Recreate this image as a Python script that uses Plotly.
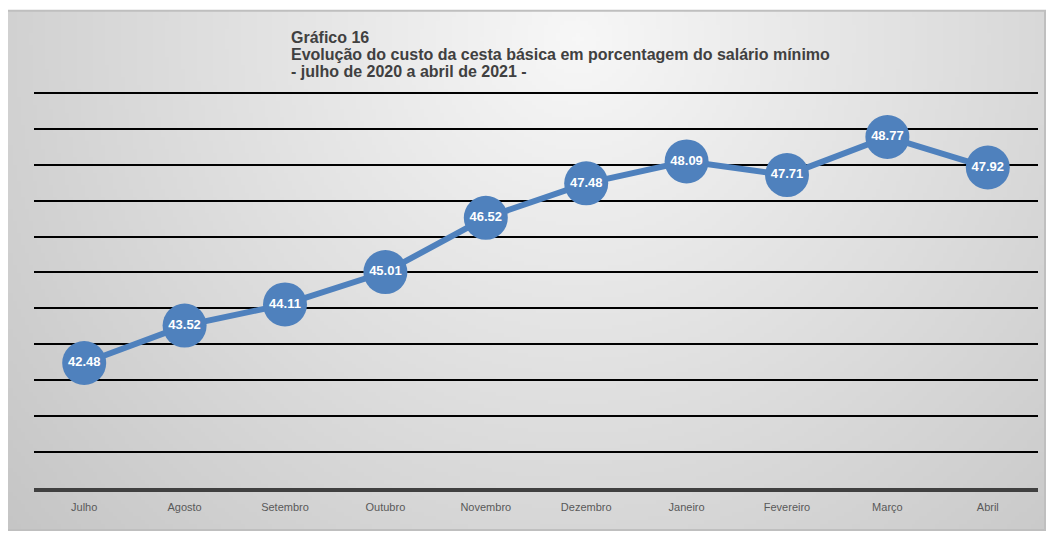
import plotly.graph_objects as go
import zlib, struct, base64, math

meses = ["Julho", "Agosto", "Setembro", "Outubro", "Novembro", "Dezembro",
         "Janeiro", "Fevereiro", "Março", "Abril"]
valores = [42.48, 43.52, 44.11, 45.01, 46.52, 47.48, 48.09, 47.71, 48.77, 47.92]
titulo = ["Gráfico 16",
          "Evolução do custo da cesta básica em porcentagem do salário mínimo",
          "- julho de 2020 a abril de 2021 -"]

# the page body adds an 8px margin; work in page pixels and shift
O = 8
W, H = 1054 - O, 533 - O
L, R, B = 34 - O, 1038 - O, 488 - O
YMIN, YMAX = 39, 50.3
unit = (488 - 93) / 11.0
T = B - (YMAX - YMIN) * unit
pw, ph = R - L, B - T

def px(xp):
    return (xp - O - L) / pw

def py(yp):
    return (B - (yp - O)) / ph

# gradient background image (radial, light centre-top, darker bottom)
iw, ih = 260, 130
rx0, ry0, rx1, ry1 = 7, 11, 1045, 530
cx, cy = 0.55, 0.05
rows = []
for j in range(ih):
    row = bytearray([0])
    for i in range(iw):
        u = i / (iw - 1)
        v = j / (ih - 1)
        dx = (u - cx) * (rx1 - rx0)
        dy = (v - cy) * (ry1 - ry0)
        d = math.sqrt(dx * dx + dy * dy) / 800.0
        d = min(d, 1.0)
        c = int(round(247 - (247 - 194) * d))
        row += bytes([c, c, c])
    rows.append(bytes(row))
raw = b"".join(rows)

def chunk(tag, data):
    return struct.pack(">I", len(data)) + tag + data + struct.pack(">I", zlib.crc32(tag + data) & 0xffffffff)

png = b"\x89PNG\r\n\x1a\n" + chunk(b"IHDR", struct.pack(">IIBBBBB", iw, ih, 8, 2, 0, 0, 0)) \
    + chunk(b"IDAT", zlib.compress(raw, 9)) + chunk(b"IEND", b"")
uri = "data:image/png;base64," + base64.b64encode(png).decode()

fig = go.Figure()
fig.add_trace(go.Scatter(
    x=meses, y=valores, mode="lines+markers+text",
    line=dict(color="#4f81bd", width=6),
    marker=dict(size=44, color="#4f81bd", line=dict(width=0)),
    text=[f"{v:.2f}" for v in valores],
    textposition="middle center",
    textfont=dict(family="Liberation Sans, Arial", size=13, color="white", weight="bold"),
    cliponaxis=False,
    hoverinfo="skip",
))

title_lines_y = [38, 55, 72]
annotations = []
for txt, yy in zip(titulo, title_lines_y):
    annotations.append(dict(
        text=txt, xref="paper", yref="paper",
        x=px(289), y=py(yy), xanchor="left", yanchor="middle", align="left",
        showarrow=False,
        font=dict(family="Liberation Sans, Arial", size=16, color="#404040", weight="bold"),
    ))

fig.update_layout(
    width=W, height=H,
    margin=dict(l=L, r=W - R, t=T, b=H - B, pad=0),
    paper_bgcolor="white",
    plot_bgcolor="rgba(0,0,0,0)",
    showlegend=False,
    font=dict(family="Liberation Sans, Arial", color="#595959"),
    xaxis=dict(
        range=[-0.5, 9.5], showgrid=False, zeroline=False,
        showline=True, linecolor="#404040", linewidth=4,
        ticks="", tickfont=dict(size=11, color="#595959"),
        ticklabelstandoff=6,
        fixedrange=True,
    ),
    yaxis=dict(
        range=[YMIN, YMAX], dtick=1, tick0=39, showgrid=True,
        gridcolor="black", gridwidth=2, showticklabels=False,
        zeroline=False, showline=False, ticks="", fixedrange=True,
    ),
    images=[dict(
        source=uri, xref="paper", yref="paper",
        x=px(rx0), y=py(ry0), sizex=(rx1 - rx0) / pw, sizey=(ry1 - ry0) / ph,
        xanchor="left", yanchor="top", sizing="stretch", layer="below",
    )],
    shapes=[dict(
        type="rect", xref="paper", yref="paper",
        x0=px(rx0), x1=px(rx1), y0=py(ry1), y1=py(ry0),
        line=dict(color="#bfbfbf", width=2), fillcolor="rgba(0,0,0,0)", layer="below",
    )],
    annotations=annotations,
)

fig.write_html("out.html")
